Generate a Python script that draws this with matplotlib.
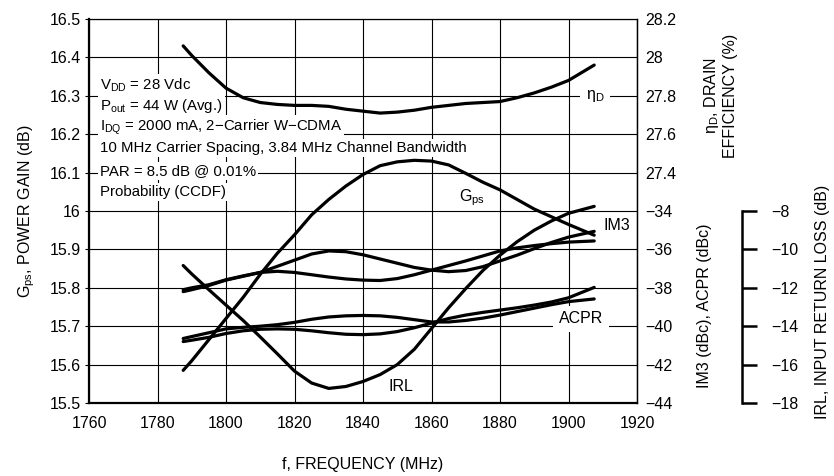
import matplotlib as mpl
mpl.use('Agg')
import matplotlib.pyplot as plt


# Frequency points (MHz) shared by every curve
freq = [1787.5, 1790, 1795, 1800, 1805, 1810, 1815, 1820, 1825, 1830, 1835,
        1840, 1845, 1850, 1855, 1860, 1865, 1870, 1875, 1880, 1885, 1890,
        1895, 1900, 1907.5]

# Gps, power gain (dB)
gps = [15.585, 15.61, 15.665, 15.72, 15.775, 15.835, 15.89, 15.938, 15.99,
       16.03, 16.065, 16.095, 16.118, 16.128, 16.132, 16.13, 16.12, 16.098,
       16.075, 16.055, 16.03, 16.005, 15.985, 15.965, 15.937]

# eta_D, drain efficiency (%)
eta_d = [28.06, 28.01, 27.92, 27.84, 27.79, 27.765, 27.755, 27.75, 27.75,
         27.745, 27.73, 27.72, 27.71, 27.715, 27.725, 27.74, 27.75, 27.76,
         27.765, 27.77, 27.79, 27.815, 27.845, 27.88, 27.96]

# IM3 (dBc), two traces
im3_a = [-38.2, -38.1, -37.88, -37.6, -37.4, -37.2, -36.88, -36.56, -36.24,
         -36.08, -36.12, -36.28, -36.5, -36.72, -36.94, -37.08, -37.16, -37.1,
         -36.9, -36.6, -36.3, -35.96, -35.64, -35.36, -35.06]
im3_b = [-38.1, -38.0, -37.84, -37.58, -37.38, -37.2, -37.14, -37.2, -37.32,
         -37.44, -37.54, -37.6, -37.62, -37.52, -37.32, -37.08, -36.84, -36.6,
         -36.34, -36.08, -35.92, -35.8, -35.7, -35.62, -35.56]

# ACPR (dBc), two traces
acpr_a = [-40.8, -40.73, -40.58, -40.38, -40.24, -40.16, -40.14, -40.16,
          -40.24, -40.34, -40.42, -40.44, -40.4, -40.28, -40.08, -39.84, -39.6,
          -39.42, -39.28, -39.16, -39.04, -38.9, -38.74, -38.52, -37.98]
acpr_b = [-40.64, -40.54, -40.34, -40.14, -40.06, -40.0, -39.92, -39.8,
          -39.64, -39.52, -39.46, -39.44, -39.46, -39.54, -39.66, -39.78,
          -39.78, -39.7, -39.58, -39.42, -39.24, -39.06, -38.88, -38.72, -38.58]

# IRL, input return loss (dB)
irl = [-10.84, -11.28, -12.1, -12.9, -13.7, -14.56, -15.44, -16.34, -16.96,
       -17.24, -17.14, -16.88, -16.52, -16.0, -15.2, -14.12, -13.04, -12.04,
       -11.1, -10.3, -9.6, -9.0, -8.52, -8.12, -7.76]

x_ticks = [1760, 1780, 1800, 1820, 1840, 1860, 1880, 1900, 1920]
gps_ticks = [15.5, 15.6, 15.7, 15.8, 15.9, 16.0, 16.1, 16.2, 16.3, 16.4, 16.5]
gps_labels = ['15.5', '15.6', '15.7', '15.8', '15.9', '16', '16.1', '16.2',
              '16.3', '16.4', '16.5']
eta_ticks = [27.4, 27.6, 27.8, 28.0, 28.2]
eta_labels = ['27.4', '27.6', '27.8', '28', '28.2']
dbc_ticks = [-44, -42, -40, -38, -36, -34]
irl_ticks = [-18, -16, -14, -12, -10, -8]

conditions = [
    'V$_\\mathregular{DD}$ = 28 Vdc',
    'P$_\\mathregular{out}$ = 44 W (Avg.)',
    'I$_\\mathregular{DQ}$ = 2000 mA, 2\u2212Carrier W\u2212CDMA',
    '10 MHz Carrier Spacing, 3.84 MHz Channel Bandwidth',
    'PAR = 8.5 dB @ 0.01%',
    'Probability (CCDF)',
]


plt.rcParams['font.family'] = ['Liberation Sans', 'DejaVu Sans']
plt.rcParams['font.size'] = 11.5
plt.rcParams['axes.unicode_minus'] = True

LW = 2.3
W, H = 834, 476
fig = plt.figure(figsize=(W / 100, H / 100), dpi=100)
ax = fig.add_axes([89 / W, 1 - 403 / H, 548 / W, 384 / H])

ax.set_xlim(1760, 1920)
ax.set_ylim(15.5, 16.5)
ax.set_xticks(x_ticks)
ax.set_yticks(gps_ticks, gps_labels)
ax.grid(True, color='black', linewidth=0.8, zorder=0)
ax.set_axisbelow(True)
ax.tick_params(axis='x', length=0, pad=9)
ax.tick_params(axis='y', length=3, width=0.8, pad=3)
for side in ['left', 'bottom']:
    ax.spines[side].set_linewidth(1.6)
for side in ['top', 'right']:
    ax.spines[side].set_linewidth(0.9)
ax.set_xlabel('f, FREQUENCY (MHz)', labelpad=19)
ax.set_ylabel('G$_\\mathregular{ps}$, POWER GAIN (dB)', labelpad=9)

# right axis: drain efficiency
ax_eta = ax.twinx()
ax_eta.set_ylim(2 * 15.5 - 4.8, 2 * 16.5 - 4.8)
ax_eta.set_yticks(eta_ticks, eta_labels)
ax_eta.tick_params(axis='y', length=0, pad=6)
ax_eta.spines['right'].set_linewidth(0.9)

# right axis: IM3 / ACPR
ax_dbc = ax.twinx()
ax_dbc.set_ylim(-44, -24)
ax_dbc.set_yticks(dbc_ticks)
ax_dbc.tick_params(axis='y', length=0, pad=6)
ax_dbc.spines['right'].set_visible(False)

# far right bracket axis: IRL
ax_irl = ax.twinx()
ax_irl.set_ylim(-18, 2)
ax_irl.set_yticks(irl_ticks)
ax_irl.spines['right'].set_position(('axes', (742 - 89) / 548))
ax_irl.spines['right'].set_bounds(-18, -8)
ax_irl.spines['right'].set_linewidth(1.8)
ax_irl.tick_params(axis='y', length=11, width=1.8, pad=10)

for a in [ax_eta, ax_dbc, ax_irl]:
    for side in ['top', 'left', 'bottom']:
        a.spines[side].set_visible(False)

style = dict(color='black', linewidth=LW, solid_capstyle='round', zorder=3)
ax.plot(freq, gps, **style)
ax_eta.plot(freq, eta_d, **style)
ax_dbc.plot(freq, im3_a, **style)
ax_dbc.plot(freq, im3_b, **style)
ax_dbc.plot(freq, acpr_a, **style)
ax_dbc.plot(freq, acpr_b, **style)
ax_irl.plot(freq, irl, **style)

white = dict(facecolor='white', edgecolor='none', pad=1.5)
ax.text(1907.7, 16.3, '\u03b7$_\\mathregular{D}$', ha='center', va='center',
        bbox=dict(facecolor='white', edgecolor='none', pad=4), zorder=4)
ax.text(1871.8, 16.034, 'G$_\\mathregular{ps}$', ha='center', va='center', zorder=4)
ax.text(1914.2, 15.961, 'IM3', ha='center', va='center', zorder=4)
ax.text(1903.6, 15.719, 'ACPR', ha='center', va='center',
        bbox=dict(facecolor='white', edgecolor='none', pad=4), zorder=4)
ax.text(1851.2, 15.543, 'IRL', ha='center', va='center', zorder=4)

line_y = [85, 106, 127, 148, 171, 192]
for text, py in zip(conditions, line_y):
    fig.text(100 / W, 1 - py / H, text, ha='left', va='center', bbox=white,
             zorder=5, fontsize=10.8)

fig.text(720 / W, 1 - 96 / H, '\u03b7$_\\mathregular{D}$, DRAIN\nEFFICIENCY (%)',
         rotation=90, ha='center', va='center', multialignment='center')
fig.text(705 / W, 1 - 306 / H, 'IM3 (dBc), ACPR (dBc)',
         rotation=90, ha='center', va='center')
fig.text(822 / W, 1 - 302 / H, 'IRL, INPUT RETURN LOSS (dB)',
         rotation=90, ha='center', va='center')

fig.savefig('out.png', dpi=100)
